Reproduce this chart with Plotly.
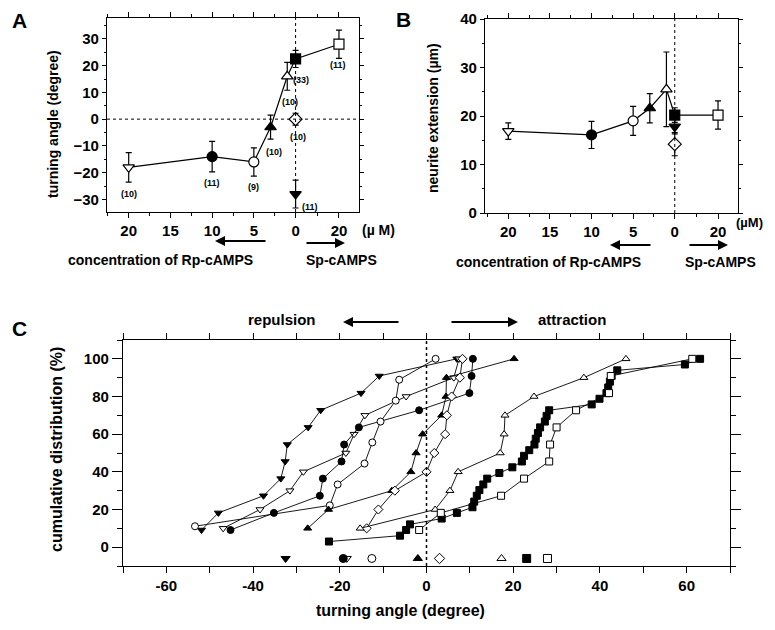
import plotly.graph_objects as go

W, H = 775, 630
PAGE = 8   # the browser body margin shifts the figure by this many pixels

# ---------------- panels A and B : one value per condition ----------------
conditions = ["Rp 20", "Rp 10", "Rp 5", "Rp 3", "Rp 1", "control", "Sp 20", "open diamond", "filled down"]
conc_axis = [-20, -10, -5, -3, -1, 0, 5.2, 0, 0]     # Rp plotted negative, Sp 20 to the right of 0
turn_mean = [-18, -14, -16, -3, 16, 22.5, 28, 0, -28]
turn_err = [5.5, 5.7, 5.3, 4.5, 5.2, 3.2, 5.3, 2.2, 5.2]
n_cells = ["(10)", "(11)", "(9)", "(10)", "(10)", "(33)", "(11)", "(10)", "(11)"]
ext_mean = [16.9, 16.1, 19.0, 21.6, 25.5, 20.2, 20.2, 14.2, 17.8]
ext_err = [1.7, 2.8, 3.0, 3.0, 7.7, 1.5, 2.9, 2.4, 1.5]
connected = [0, 1, 2, 3, 4, 5, 6]

a_ticks = [-20, -15, -10, -5, 0, 5.2]
a_ticktext = ["20", "15", "10", "5", "0", "20"]

# ---------------- panel C : cumulative distributions ----------------
c_series = {
    "filled down": ([-51.9, -48.0, -37.6, -33.6, -32.6, -32.1, -27.3, -24.4, -15.1, -10.9, 7.0],
                    [9.1, 18.2, 27.3, 36.4, 45.5, 54.5, 63.6, 72.7, 81.8, 90.9, 100]),
    "Rp 20": ([-46.9, -38.4, -31.5, -28.4, -18.6, -16.7, -14.2, -4.7, 6.3, 7.5],
              [10, 20, 30, 40, 50, 60, 70, 80, 90, 100]),
    "Rp 10": ([-45.2, -35.2, -24.6, -23.9, -19.6, -19.0, -15.6, -1.7, 9.9, 10.4, 10.7],
              [9.1, 18.2, 27.3, 36.4, 45.5, 54.5, 63.6, 72.7, 81.8, 90.9, 100]),
    "Rp 5": ([-53.4, -22.3, -20.5, -14.3, -12.5, -10.6, -7.1, -6.3, 2.1],
             [11.1, 22.2, 33.3, 44.4, 55.6, 66.7, 77.8, 88.9, 100]),
    "Rp 3": ([-27.4, -22.6, -8.0, -3.6, -2.4, -0.9, 3.5, 4.5, 4.6, 20.2],
             [10, 20, 30, 40, 50, 60, 70, 80, 90, 100]),
    "open diamond": ([-13.8, -11.1, -7.3, 0.0, 1.8, 4.3, 4.7, 5.8, 7.7, 8.3],
                     [10, 20, 30, 40, 50, 60, 70, 80, 90, 100]),
    "Rp 1": ([-15.3, 2.0, 5.4, 7.3, 17.0, 17.9, 18.1, 24.8, 36.3, 46.0],
             [10, 20, 30, 40, 50, 60, 70, 80, 90, 100]),
    "control": ([-22.5, -6.1, -4.7, -3.8, 3.5, 7.0, 10.6, 11.0, 11.6, 12.2, 13.1,
                 14.0, 16.8, 19.8, 22.0, 22.5, 23.7, 24.9, 25.2, 25.7, 26.2, 27.3,
                 27.7, 28.3, 38.1, 39.9, 41.5, 41.9, 42.3, 42.7, 44.0, 59.6, 63.1],
                [3.0, 6.1, 9.1, 12.1, 15.2, 18.2, 21.2, 24.2, 27.3, 30.3, 33.3,
                 36.4, 39.4, 42.4, 45.5, 48.5, 51.5, 54.5, 57.6, 60.6, 63.6, 66.7,
                 69.7, 72.7, 75.8, 78.8, 81.8, 84.8, 87.9, 90.9, 93.9, 97.0, 100]),
    "Sp 20": ([-1.7, 3.3, 17.2, 22.5, 28.3, 28.5, 30.0, 34.5, 42.1, 42.5, 61.3],
              [9.1, 18.2, 27.3, 36.4, 45.5, 54.5, 63.6, 72.7, 81.8, 90.9, 100]),
}
c_mean_x = {"filled down": -32.5, "Rp 20": -18.4, "Rp 10": -19.2, "Rp 5": -12.6, "Rp 3": -2.0,
            "open diamond": 3.0, "Rp 1": 17.3, "control": 23.1, "Sp 20": 27.9}
c_mean_y = -6

# marker look per condition
sym = {"Rp 20": ("triangle-down", "white"), "Rp 10": ("circle", "black"),
       "Rp 5": ("circle", "white"), "Rp 3": ("triangle-up", "black"),
       "Rp 1": ("triangle-up", "white"), "control": ("square", "black"),
       "Sp 20": ("square", "white"), "open diamond": ("diamond", "white"),
       "filled down": ("triangle-down", "black")}


def px(x):
    return (x - PAGE) / W


def py(y):
    return 1 - (y - PAGE) / H


FONT = "Liberation Sans, Arial, Helvetica, sans-serif"
fig = go.Figure()

# ---- panel A ----
fig.add_trace(go.Scatter(x=[conc_axis[i] for i in connected], y=[turn_mean[i] for i in connected],
                         mode="lines", line=dict(color="black", width=1.2),
                         xaxis="x", yaxis="y", showlegend=False, hoverinfo="skip"))
for i, c in enumerate(conditions):
    s, f = sym[c]
    fig.add_trace(go.Scatter(x=[conc_axis[i]], y=[turn_mean[i]], mode="markers",
                             marker=dict(symbol=s, size=10, color=f, line=dict(color="black", width=1.2)),
                             error_y=dict(type="data", array=[turn_err[i]], color="black", thickness=1.2, width=3),
                             xaxis="x", yaxis="y", showlegend=False, name=c))

# ---- panel B ----
fig.add_trace(go.Scatter(x=[conc_axis[i] for i in connected], y=[ext_mean[i] for i in connected],
                         mode="lines", line=dict(color="black", width=1.2),
                         xaxis="x2", yaxis="y2", showlegend=False, hoverinfo="skip"))
for i, c in enumerate(conditions):
    s, f = sym[c]
    fig.add_trace(go.Scatter(x=[conc_axis[i]], y=[ext_mean[i]], mode="markers",
                             marker=dict(symbol=s, size=10, color=f, line=dict(color="black", width=1.2)),
                             error_y=dict(type="data", array=[ext_err[i]], color="black", thickness=1.2, width=3),
                             xaxis="x2", yaxis="y2", showlegend=False, name=c))

# ---- panel C ----
for c, (xs, ys) in c_series.items():
    s, f = sym[c]
    fig.add_trace(go.Scatter(x=xs, y=ys, mode="lines+markers",
                             line=dict(color="black", width=0.9),
                             marker=dict(symbol=s, size=7, color=f, line=dict(color="black", width=1)),
                             xaxis="x3", yaxis="y3", showlegend=False, name=c))
for c in c_series:
    s, f = sym[c]
    fig.add_trace(go.Scatter(x=[c_mean_x[c]], y=[c_mean_y], mode="markers",
                             marker=dict(symbol=s, size=8, color=f, line=dict(color="black", width=1)),
                             xaxis="x3", yaxis="y3", showlegend=False, name=c + " mean"))

tickfont = dict(family=FONT, size=15, color="black", weight="bold")
axbase = dict(showline=True, linecolor="black", linewidth=1.3, mirror="ticks", ticks="outside",
              tickcolor="black", tickwidth=1.2, showgrid=False, zeroline=False, tickfont=tickfont,
              automargin=False)

fig.update_layout(
    width=W, height=H, plot_bgcolor="white", paper_bgcolor="white",
    margin=dict(l=0, r=0, t=0, b=0, pad=0, autoexpand=False),
    xaxis=dict(axbase, domain=[px(107), px(359)], range=[-22.6, 7.6], tickvals=a_ticks, ticktext=a_ticktext,
               ticklen=5, anchor="y",
               minor=dict(tickvals=[-22.5, -17.5, -12.5, -7.5, -2.5, 2.6], ticks="outside", ticklen=3, tickcolor="black")),
    yaxis=dict(axbase, domain=[py(212), py(18)], range=[-34.7, 37.8], dtick=10, ticklen=4, anchor="x",
               minor=dict(dtick=5, ticks="outside", ticklen=2, tickcolor="black")),
    xaxis2=dict(axbase, domain=[px(485), px(738)], range=[-22.8, 7.6], tickvals=a_ticks, ticktext=a_ticktext,
                ticklen=5, anchor="y2",
                minor=dict(tickvals=[-22.5, -17.5, -12.5, -7.5, -2.5, 2.6], ticks="outside", ticklen=3, tickcolor="black")),
    yaxis2=dict(axbase, domain=[py(213), py(19)], range=[0, 40], dtick=10, ticklen=4, anchor="x2",
                minor=dict(dtick=5, ticks="outside", ticklen=2, tickcolor="black")),
    xaxis3=dict(axbase, domain=[px(123), px(730)], range=[-70, 70],
                tickvals=list(range(-70, 71, 10)),
                ticktext=["", "-60", "", "-40", "", "-20", "", "0", "", "20", "", "40", "", "60", ""],
                ticklen=6, anchor="y3"),
    yaxis3=dict(axbase, domain=[py(566), py(340)], range=[-10, 110], tickvals=[0, 20, 40, 60, 80, 100],
                ticklen=10, anchor="x3",
                minor=dict(tickvals=[-10, 10, 30, 50, 70, 90, 110], ticks="outside", ticklen=5, tickcolor="black")),
)

# dotted reference lines
dot = dict(color="black", width=1, dash="dot")
fig.add_shape(type="line", xref="x", yref="y", x0=-22.6, x1=7.6, y0=0, y1=0, line=dot)
fig.add_shape(type="line", xref="x", yref="y", x0=0, x1=0, y0=-34.7, y1=37.8, line=dot)
fig.add_shape(type="line", xref="x2", yref="y2", x0=0, x1=0, y0=0, y1=40, line=dot)
fig.add_shape(type="line", xref="x3", yref="y3", x0=0, x1=0, y0=-10, y1=110,
              line=dict(color="black", width=1.5, dash="3px,3px"))

# n labels in A
n_pos = [(-20, -27.8), (-10, -23.7), (-5, -25.2), (-2.6, -12.1), (-0.7, 6.3),
         (0.7, 14.5), (5.04, 20.1), (0.24, -6.5), (1.7, -32.7)]
for (x, y), t in zip(n_pos, n_cells):
    fig.add_annotation(x=x, y=y, xref="x", yref="y", text=t, showarrow=False,
                       font=dict(family=FONT, size=9, color="black", weight="bold"))


def text(x, y, t, size=14, angle=0):
    fig.add_annotation(x=px(x), y=py(y), xref="paper", yref="paper", text=t, showarrow=False,
                       xanchor="center", yanchor="middle", textangle=angle,
                       font=dict(family=FONT, size=size, color="black", weight="bold"))


def arrow(x_head, x_tail, y):
    fig.add_annotation(x=px(x_head), y=py(y), xref="paper", yref="paper", text="",
                       ax=x_tail - x_head, ay=0, showarrow=True, arrowhead=2, arrowsize=1,
                       arrowwidth=2, arrowcolor="black")


# panel letters
text(19, 20, "A", 21)
text(403, 19, "B", 21)
text(19, 328, "C", 21)

# axis titles
text(53, 124, "turning angle (degree)", 14, -90)
text(433, 118, "neurite extension (µm)", 14, -90)
text(57, 450, "cumulative distribution (%)", 16, -90)
text(400, 610, "turning angle (degree)", 16)

# concentration labels under A and B
text(378, 230, "(µ M)", 14)
text(160, 260, "concentration of Rp-cAMPS", 14)
text(341, 260, "Sp-cAMPS", 14)
arrow(215, 267, 241)
arrow(345, 305, 243)

text(749, 222, "(µM)", 13)
text(548, 262, "concentration of Rp-cAMPS", 14)
text(720, 262, "Sp-cAMPS", 14)
arrow(610, 652, 245)
arrow(728, 688, 245)

# repulsion / attraction
text(282, 319, "repulsion", 15)
text(572, 319, "attraction", 15)
arrow(343, 400, 322)
arrow(518, 450, 322)

fig.write_html("out.html")
